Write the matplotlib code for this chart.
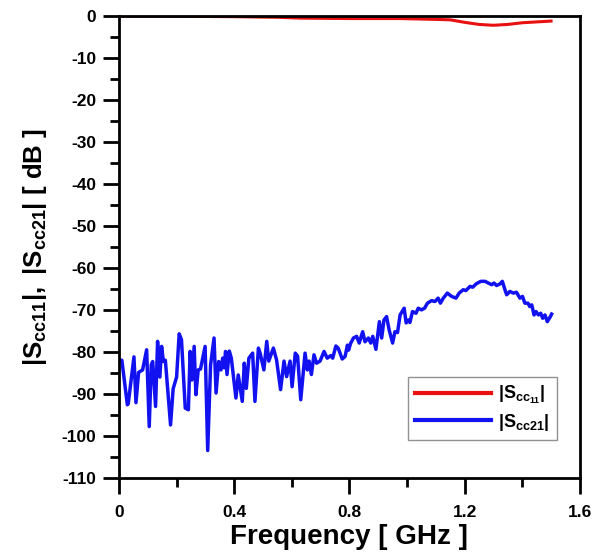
import matplotlib.pyplot as plt
from matplotlib.ticker import MultipleLocator

plt.rcParams['font.family'] = ['Liberation Sans', 'DejaVu Sans']
plt.rcParams['font.weight'] = 'bold'
plt.rcParams['axes.unicode_minus'] = False
plt.rcParams['mathtext.fontset'] = 'custom'
plt.rcParams['mathtext.rm'] = 'Liberation Sans:bold'
plt.rcParams['mathtext.it'] = 'Liberation Sans:bold'
plt.rcParams['mathtext.bf'] = 'Liberation Sans:bold'

# |Scc11| (red)
f_s11 = [0.0, 0.2, 0.4, 0.55, 0.63, 0.8, 0.976, 1.1, 1.15, 1.2, 1.25, 1.3, 1.35, 1.4, 1.5]
s11 = [0.0, -0.05, -0.15, -0.3, -0.5, -0.6, -0.6, -0.8, -0.9, -1.5, -2.0, -2.2, -2.0, -1.6, -1.2]

# |Scc21| (blue)
f_s21 = [0.0, 0.01, 0.029, 0.032, 0.052, 0.059, 0.068, 0.082, 0.096, 0.105, 0.112, 0.117,
         0.127, 0.134, 0.142, 0.148, 0.154, 0.161, 0.179, 0.188, 0.2, 0.209, 0.217, 0.23,
         0.241, 0.247, 0.253, 0.261, 0.267, 0.275, 0.283, 0.299, 0.308, 0.318, 0.33, 0.337,
         0.346, 0.354, 0.36, 0.365, 0.37, 0.375, 0.383, 0.39, 0.406, 0.414, 0.428, 0.435,
         0.442, 0.451, 0.464, 0.472, 0.484, 0.49, 0.503, 0.513, 0.52, 0.536, 0.547, 0.561,
         0.573, 0.582, 0.594, 0.601, 0.612, 0.62, 0.631, 0.646, 0.654, 0.66, 0.668, 0.677,
         0.686, 0.698, 0.712, 0.723, 0.735, 0.742, 0.753, 0.761, 0.775, 0.785, 0.793, 0.797,
         0.804, 0.814, 0.825, 0.834, 0.846, 0.854, 0.866, 0.874, 0.881, 0.892, 0.904, 0.912,
         0.92, 0.929, 0.938, 0.95, 0.958, 0.967, 0.976, 0.99, 0.997, 1.005, 1.01, 1.019,
         1.031, 1.039, 1.05, 1.061, 1.071, 1.085, 1.097, 1.108, 1.116, 1.126, 1.14, 1.155,
         1.17, 1.181, 1.195, 1.204, 1.219, 1.228, 1.24, 1.256, 1.271, 1.282, 1.294, 1.302,
         1.311, 1.323, 1.331, 1.34, 1.346, 1.357, 1.369, 1.38, 1.392, 1.401, 1.409, 1.42,
         1.426, 1.433, 1.441, 1.448, 1.456, 1.464, 1.471, 1.479, 1.487, 1.496, 1.502]
s21 = [-82.0, -82.0, -92.6, -92.4, -81.2, -92.1, -84.9, -84.3, -79.5, -97.8, -83.1, -82.3,
       -93.0, -77.5, -86.0, -78.7, -82.3, -82.0, -97.4, -88.8, -86.0, -75.7, -77.1, -93.4,
       -93.8, -79.9, -86.7, -78.7, -90.2, -84.3, -84.1, -78.7, -103.5, -83.1, -76.7, -89.8,
       -82.3, -84.3, -81.5, -83.8, -79.9, -85.4, -79.8, -81.5, -91.0, -85.5, -91.8, -82.7,
       -88.7, -81.5, -80.3, -91.8, -79.1, -80.3, -84.3, -77.5, -82.2, -79.1, -81.9, -89.0,
       -82.2, -85.9, -82.2, -88.3, -80.3, -81.0, -91.4, -80.3, -84.3, -82.2, -85.4, -80.7,
       -82.7, -82.2, -79.9, -81.5, -80.9, -81.5, -78.6, -79.1, -81.7, -81.1, -78.4, -79.6,
       -78.0, -76.7, -76.3, -77.9, -75.2, -77.6, -76.7, -77.9, -76.3, -79.4, -72.8, -76.7,
       -72.4, -71.6, -74.8, -77.9, -75.2, -75.4, -71.2, -69.6, -73.1, -72.4, -73.0, -70.4,
       -70.8, -69.6, -70.0, -69.6, -68.4, -67.8, -68.0, -67.2, -68.4, -67.2, -66.0, -66.8,
       -67.2, -66.0, -65.2, -65.4, -64.4, -64.6, -63.8, -63.2, -63.2, -63.6, -64.0, -63.6,
       -64.2, -63.8, -63.2, -65.2, -66.4, -65.6, -66.0, -65.8, -67.2, -66.8, -68.4, -68.4,
       -69.2, -68.8, -71.2, -70.4, -71.2, -70.8, -72.0, -71.2, -72.8, -71.8, -71.0]

fig = plt.figure(figsize=(6.04, 5.53), dpi=100)
ax = fig.add_axes([0.197, 0.136, 0.763, 0.835])

ax.plot(f_s11, s11, color='#e81010', lw=2.2, label=r'$|S_{cc_{11}}|$')
ax.plot(f_s21, s21, color='#1212f0', lw=2.5, label=r'$|S_{cc21}|$')

ax.set_xlim(0, 1.6)
ax.set_ylim(-110, 0)
ax.xaxis.set_major_locator(MultipleLocator(0.4))
ax.xaxis.set_minor_locator(MultipleLocator(0.2))
ax.yaxis.set_major_locator(MultipleLocator(10))
ax.yaxis.set_minor_locator(MultipleLocator(5))
ax.xaxis.set_major_formatter(plt.FuncFormatter(lambda v, p: '0' if abs(v) < 1e-9 else f'{v:.1f}'))

for s in ax.spines.values():
    s.set_linewidth(2.0)
ax.tick_params(which='major', direction='out', length=11.5, width=2.0, labelsize=12.5, pad=5)
ax.tick_params(axis='x', which='major', pad=8)
ax.tick_params(which='minor', direction='out', length=6.5, width=2.0)

ax.set_xlabel('Frequency [ GHz ]', fontsize=20, fontweight='bold', labelpad=3)
ax.set_ylabel(r'$|S_{cc11}|,\ |S_{cc21}|$ [ dB ]', fontsize=18.5, fontweight='bold', labelpad=9)

leg = ax.legend(loc='lower right', bbox_to_anchor=(0.95, 0.082), borderaxespad=0,
                fontsize=13, handlelength=4.2, handletextpad=0.4, frameon=True,
                fancybox=False, borderpad=0.4, labelspacing=0.3)
leg.get_frame().set_edgecolor('#777777')
leg.get_frame().set_linewidth(1.0)
for line in leg.get_lines():
    line.set_linewidth(3.0)

fig.savefig('out.png', dpi=100)
